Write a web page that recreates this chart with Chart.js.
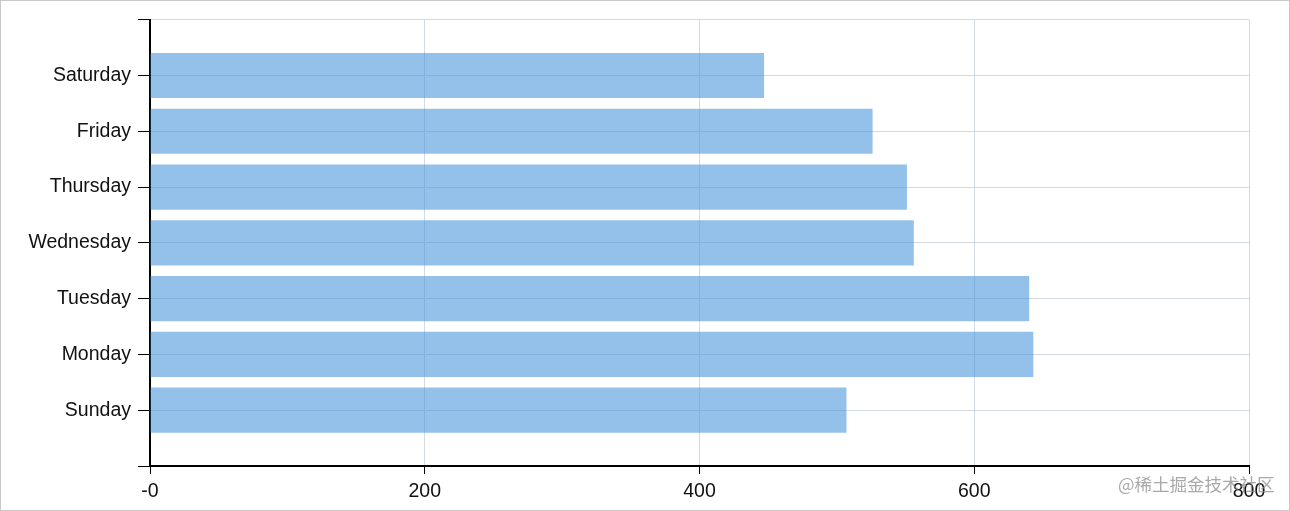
<!DOCTYPE html>
<html>
<head>
<meta charset="utf-8">
<script src="https://cdn.jsdelivr.net/npm/chart.js@4/dist/chart.umd.min.js"></script>
<style>
  html, body { margin: 0; padding: 0; background: #fff; }
  #wrap { position: relative; width: 1290px; height: 511px; box-sizing: border-box; border: 1px solid #c8c8c8; }
  #mark { position: absolute; left: 1117px; top: 470px; font: 17.5px "Noto Sans CJK SC", sans-serif; color: rgba(140,140,140,0.75); white-space: nowrap; }
</style>
</head>
<body>
<div id="wrap">
  <canvas id="chart" width="1288" height="509"></canvas>
  <div id="mark">@稀土掘金技术社区</div>
</div>
<script>
// days bottom -> top
const days = ["Sunday", "Monday", "Tuesday", "Wednesday", "Thursday", "Friday", "Saturday"];
const values = [507, 643, 640, 556, 551, 526, 447];
const xTicks = [0, 200, 400, 600, 800];
const xTickLabels = ["-0", "200", "400", "600", "800"];

const font = { family: "'Liberation Sans', Arial, sans-serif", size: 19.5 };

new Chart(document.getElementById("chart"), {
  type: "bar",
  data: {
    datasets: [{
      data: values.map((v, i) => ({ x: v, y: i })),
      backgroundColor: "rgba(75,152,220,0.6)",
      borderWidth: 0,
      barPercentage: 0.81,
      categoryPercentage: 1
    }]
  },
  options: {
    indexAxis: "y",
    responsive: false,
    animation: false,
    layout: { padding: { top: 18, right: 40, left: 0, bottom: 0 } },
    plugins: { legend: { display: false }, tooltip: { enabled: false } },
    scales: {
      x: {
        type: "linear",
        min: 0,
        max: 800,
        afterBuildTicks: (s) => { s.ticks = xTicks.map(v => ({ value: v })); },
        afterFit: (s) => { s.height = 44; },
        ticks: {
          color: "#111",
          font: font,
          padding: 6,
          callback: (v) => xTickLabels[xTicks.indexOf(v)]
        },
        grid: { color: "#d3dae1", lineWidth: 1, tickColor: "#000", tickLength: 8 },
        border: { color: "#000", width: 2 }
      },
      y: {
        type: "linear",
        offset: false,
        min: -1,
        max: 7,
        afterFit: (s) => { s.width = 149; },
        ticks: {
          stepSize: 1,
          color: "#111",
          font: font,
          padding: 7,
          callback: (v) => days[v] || ""
        },
        grid: { offset: false, color: "#d3dae1", lineWidth: 1, tickColor: "#000", tickLength: 12 },
        border: { color: "#000", width: 2 }
      }
    }
  }
});
</script>
</body>
</html>
